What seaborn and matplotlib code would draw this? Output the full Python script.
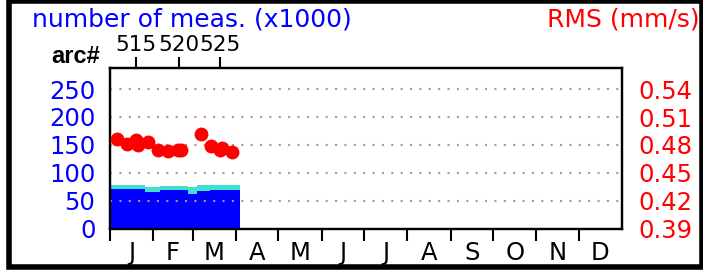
import numpy as np
import pandas as pd
import seaborn as sns
import matplotlib.pyplot as plt
from matplotlib.patches import Rectangle

# measurements per block (x1000), day of year
meas_days = [0, 25, 35.6, 55.6, 62, 71.3, 92.7]
meas_blue = [71, 65.6, 69, 62.5, 66.8, 68.6, 68.6]
meas_cyan = [7.3, 8.4, 7.3, 11.5, 10.8, 10.1, 10.1]

# RMS per arc
rms_days = [4.8, 11.9, 18.5, 20.2, 27.3, 34.4, 41.6, 48.7, 50.6, 64.7, 71.8, 78.4, 79.6, 87.2]
rms_vals = [0.486, 0.481, 0.485, 0.480, 0.483, 0.474, 0.473, 0.475, 0.475, 0.492, 0.479, 0.474, 0.477, 0.472]

arc_days = [18.5, 49.2, 78.4]
arc_labels = ["515", "520", "525"]

month_starts = [0, 31, 59, 90, 120, 151, 181, 212, 243, 273, 304, 334, 365]
month_labels = ["J", "F", "M", "A", "M", "J", "J", "A", "S", "O", "N", "D"]

left_ticks = [0, 50, 100, 150, 200, 250]
right_ticks = [0.39, 0.42, 0.45, 0.48, 0.51, 0.54]

sns.set_style("white")
plt.rcParams["font.family"] = ["DejaVu Sans"]
plt.rcParams["text.color"] = "black"
fs = 17.5

fig = plt.figure(figsize=(7.03, 2.70), dpi=100)
ax = fig.add_axes([110/703, 1-228.6/270, 512/703, 160.6/270])

blue = np.array(meas_blue)
total = blue + np.array(meas_cyan)
ax.fill_between(meas_days, 0, blue, step="post", color="#0000ff", lw=0)
ax.fill_between(meas_days, blue, total, step="post", color="#40e0d0", lw=0)
ax.set_xlim(0, 365)
ax.set_ylim(0, 287.8)

ax.set_yticks(left_ticks)
ax.tick_params(axis="y", colors="#0000ff", labelsize=fs, length=0, pad=10.5)
ax.set_xticks(month_starts[:-1])
ax.set_xticklabels([])
ax.set_xticks([(a + b) / 2 for a, b in zip(month_starts[:-1], month_starts[1:])], minor=True)
ax.set_xticklabels(month_labels, minor=True)
ax.tick_params(axis="x", which="major", direction="out", length=8.6, width=1.5, color="black", bottom=True)
ax.tick_params(axis="x", which="minor", length=0, labelsize=fs, pad=9, labelcolor="black")

ax2 = ax.twinx()
ax2.set_ylim(0.39, 0.39 + 160.6 / 27.9 * 0.03)
for v in right_ticks[1:]:
    ax2.axhline(v, color="#bc8f8f", lw=1.5, ls=(0, (1, 3.5)), zorder=1)
df = pd.DataFrame({"day": rms_days, "rms": rms_vals})
sns.scatterplot(data=df, x="day", y="rms", ax=ax2, color="#ff0000", s=100, linewidth=0, zorder=3)
ax2.set_yticks(right_ticks)
ax2.set_yticklabels([f"{v:.2f}" for v in right_ticks])
ax2.tick_params(axis="y", colors="#ff0000", labelsize=fs, length=0, pad=11.5)
ax2.set_xlabel("")
ax2.set_ylabel("")
ax2.set_xlim(0, 365)

top = ax.secondary_xaxis("top")
top.set_xticks(arc_days, labels=arc_labels)
top.tick_params(axis="x", direction="out", length=8, width=1.5, color="black",
                labelcolor="black", labelsize=15.5, pad=1)
top.spines["top"].set_visible(False)

for a in (ax, ax2):
    for s in a.spines.values():
        s.set_color("black")
        s.set_linewidth(1.6)

fig.text(32/703, 1-26.7/270, "number of meas. (x1000)", color="#0000ff", fontsize=18, va="baseline", ha="left")
fig.text(700/703, 1-26.7/270, "RMS (mm/s)", color="#ff0000", fontsize=18, va="baseline", ha="right")
fig.text(51/703, 1-63.3/270, "arc#", color="black", fontsize=17, fontweight="bold",
         family=["Liberation Sans"], va="baseline", ha="left")

fig.patches.append(Rectangle((8.5/703, 3.5/270), (701.5-8.5)/703, (269.5-3.5)/270, transform=fig.transFigure,
                             fill=False, ec="black", lw=4))

fig.savefig("out.png", dpi=100)
